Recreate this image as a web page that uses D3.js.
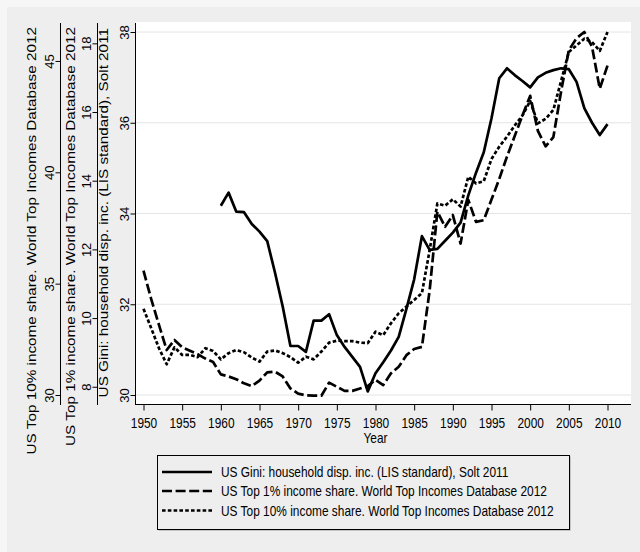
<!DOCTYPE html>
<html>
<head>
<meta charset="utf-8">
<script src="https://cdn.jsdelivr.net/npm/d3@7"></script>
<style>
  html, body { margin: 0; padding: 0; background: #f6f6f6; }
  svg { display: block; font-family: "Liberation Sans", Arial, sans-serif; }
</style>
</head>
<body>
<svg id="chart" width="640" height="552"></svg>
<script>
// ---- data ----
const giniYears = d3.range(1960, 2011);
const giniValues = [
  34.17, 34.46, 34.04, 34.03, 33.77, 33.60, 33.39, 32.70, 31.95, 31.08,
  31.08, 30.95, 31.64, 31.64, 31.78, 31.32, 31.06, 30.84, 30.62, 30.08,
  30.48, 30.72, 30.98, 31.28, 31.90, 32.55, 33.50, 33.20, 33.22, 33.40,
  33.58, 33.80, 34.40, 34.90, 35.35, 36.10, 36.98, 37.20, 37.05, 36.92,
  36.78, 37.00, 37.10, 37.16, 37.20, 37.18, 36.90, 36.32, 36.00, 35.73,
  35.97
];
const topYears = d3.range(1950, 2011);
const top1Values = [
  11.38, 10.55, 9.80, 9.07, 9.36, 9.15, 9.05, 8.95, 8.82, 8.72,
  8.36, 8.30, 8.22, 8.10, 8.02, 8.18, 8.42, 8.44, 8.30, 7.95,
  7.80, 7.75, 7.74, 7.74, 8.12, 8.00, 7.88, 7.88, 7.95, 8.02,
  8.20, 8.05, 8.39, 8.58, 8.92, 9.10, 9.16, 10.80, 13.10, 12.66,
  13.00, 12.17, 13.44, 12.80, 12.85, 13.45, 14.05, 14.70, 15.30, 15.90,
  16.47, 15.45, 15.00, 15.27, 16.60, 17.80, 18.15, 18.33, 17.90, 16.68,
  17.35
];
const top10Values = [
  33.87, 33.00, 32.10, 31.38, 32.14, 31.80, 31.80, 31.70, 32.10, 31.98,
  31.60, 31.88, 32.02, 31.92, 31.68, 31.50, 31.95, 32.00, 31.88, 31.70,
  31.45, 31.72, 31.60, 31.95, 32.35, 32.44, 32.42, 32.42, 32.35, 32.33,
  32.84, 32.69, 33.22, 33.67, 33.97, 34.27, 34.57, 36.50, 38.60, 38.50,
  38.79, 38.46, 39.80, 39.50, 39.60, 40.60, 41.15, 41.60, 42.10, 42.55,
  43.20, 42.20, 42.40, 42.80, 44.10, 45.40, 45.70, 46.00, 45.85, 45.45,
  46.30
];

const xTicks = [1950, 1955, 1960, 1965, 1970, 1975, 1980, 1985, 1990, 1995, 2000, 2005, 2010];
const giniTicks = [30, 32, 34, 36, 38];
const top1Ticks = [8, 10, 12, 14, 16, 18];
const top10Ticks = [30, 35, 40, 45];

const giniTitle = "US Gini: household disp. inc. (LIS standard), Solt 2011";
const top1Title = "US Top 1% income share. World Top Incomes Database 2012";
const top10Title = "US Top 10% income share. World Top Incomes Database 2012";
const xTitle = "Year";

// ---- layout ----
const svg = d3.select("#chart");
const W = 640, H = 552;
const plot = { left: 136, right: 631, top: 22, bottom: 404 };
const SX = 0.85; // horizontal text compression

svg.append("rect").attr("x", 7).attr("y", 7).attr("width", W - 7).attr("height", H - 7).attr("fill", "#eeeeee");
svg.append("rect")
  .attr("x", plot.left).attr("y", plot.top)
  .attr("width", plot.right - plot.left).attr("height", plot.bottom - plot.top)
  .attr("fill", "#ffffff");

// ---- scales ----
const x = d3.scaleLinear().domain([1950, 2010]).range([143.5, 607.5]);
const yGini = d3.scaleLinear().domain([30, 38]).range([395, 32]);
const yTop1 = d3.scaleLinear().domain([7.76, 18.33]).range([395, 32]);
const yTop10 = d3.scaleLinear().domain([30, 46.3]).range([395, 32]);

// gridlines on the Gini axis
svg.append("g").selectAll("line").data(giniTicks).join("line")
  .attr("x1", plot.left).attr("x2", plot.right)
  .attr("y1", d => yGini(d)).attr("y2", d => yGini(d))
  .attr("stroke", "#e4e4e4").attr("stroke-width", 1);

// ---- series ----
const lineW = 2.7;
function drawSeries(years, values, yScale, dash) {
  const data = years.map((yr, i) => [yr, values[i]]);
  svg.append("path")
    .datum(data)
    .attr("fill", "none")
    .attr("stroke", "#000")
    .attr("stroke-width", lineW)
    .attr("stroke-linejoin", "round")
    .attr("stroke-dasharray", dash)
    .attr("d", d3.line().x(d => x(d[0])).y(d => yScale(d[1])));
}
drawSeries(topYears, top10Values, yTop10, "3.6,2.2");
drawSeries(topYears, top1Values, yTop1, "10,3.6");
drawSeries(giniYears, giniValues, yGini, null);

// ---- x axis ----
const xAxis = svg.append("g")
  .attr("transform", `translate(0,${plot.bottom + 0.5})`)
  .call(d3.axisBottom(x).tickValues(xTicks).tickFormat(d3.format("d")).tickSize(6).tickSizeOuter(0));
xAxis.select(".domain").remove();
xAxis.selectAll(".tick line").attr("stroke", "#000");
xAxis.selectAll(".tick text")
  .attr("y", 0).attr("dy", 0)
  .attr("transform", `translate(0,23.5) scale(${SX},1)`)
  .attr("font-size", 14).attr("fill", "#000")
  .attr("font-family", "Liberation Sans, Arial, sans-serif");
svg.append("line")
  .attr("x1", plot.left).attr("x2", plot.right)
  .attr("y1", plot.bottom + 0.5).attr("y2", plot.bottom + 0.5)
  .attr("stroke", "#000").attr("stroke-width", 1);

svg.append("text")
  .attr("transform", `translate(${(x(1950) + x(2010)) / 2},443) scale(${SX},1)`)
  .attr("text-anchor", "middle").attr("font-size", 14).text(xTitle);

// ---- y axes ----
function yAxis(xPos, scale, ticks, title, titleX, titleTopY) {
  const g = svg.append("g").attr("transform", `translate(${xPos},0)`)
    .call(d3.axisLeft(scale).tickValues(ticks).tickFormat(d3.format("d")).tickSize(5).tickSizeOuter(0));
  g.select(".domain").remove();
  g.selectAll(".tick line").attr("stroke", "#000");
  g.selectAll(".tick text")
    .attr("x", 0).attr("y", 0).attr("dy", 0)
    .attr("text-anchor", "middle")
    .attr("transform", "translate(-6.5,0) rotate(-90)")
    .attr("font-size", 13).attr("fill", "#000")
    .attr("font-family", "Liberation Sans, Arial, sans-serif");
  svg.append("line")
    .attr("x1", xPos).attr("x2", xPos)
    .attr("y1", plot.top + 1).attr("y2", plot.bottom + 1)
    .attr("stroke", "#000").attr("stroke-width", 1);
  svg.append("text")
    .attr("transform", `translate(${titleX},${titleTopY}) scale(${SX},1) rotate(-90)`)
    .attr("text-anchor", "end").attr("font-size", 15.3).text(title);
}
yAxis(plot.left - 0.5, yGini, giniTicks, giniTitle, 107.5, 28);
yAxis(97.5, yTop1, top1Ticks, top1Title, 75, 27);
yAxis(60.5, yTop10, top10Ticks, top10Title, 35.5, 27);

// ---- legend ----
const legend = { x: 157, y: 455, w: 412, h: 74 };
svg.append("rect")
  .attr("x", legend.x + 1.5).attr("y", legend.y + 1.5)
  .attr("width", legend.w).attr("height", legend.h)
  .attr("fill", "#9a9a9a");
svg.append("rect")
  .attr("x", legend.x + 0.5).attr("y", legend.y + 0.5)
  .attr("width", legend.w).attr("height", legend.h)
  .attr("fill", "#eeeeee").attr("stroke", "#000").attr("stroke-width", 1);

const legendItems = [
  { label: giniTitle, dash: null },
  { label: top1Title, dash: "10,3.6" },
  { label: top10Title, dash: "3.6,2.2" }
];
const rowY = [472, 491, 510.5];
legendItems.forEach((it, i) => {
  svg.append("line")
    .attr("x1", 162).attr("x2", 212)
    .attr("y1", rowY[i]).attr("y2", rowY[i])
    .attr("stroke", "#000").attr("stroke-width", lineW)
    .attr("stroke-dasharray", it.dash);
  svg.append("text")
    .attr("transform", `translate(221,${rowY[i] + 5.2}) scale(${SX},1)`)
    .attr("font-size", 14).text(it.label);
});
</script>
</body>
</html>
